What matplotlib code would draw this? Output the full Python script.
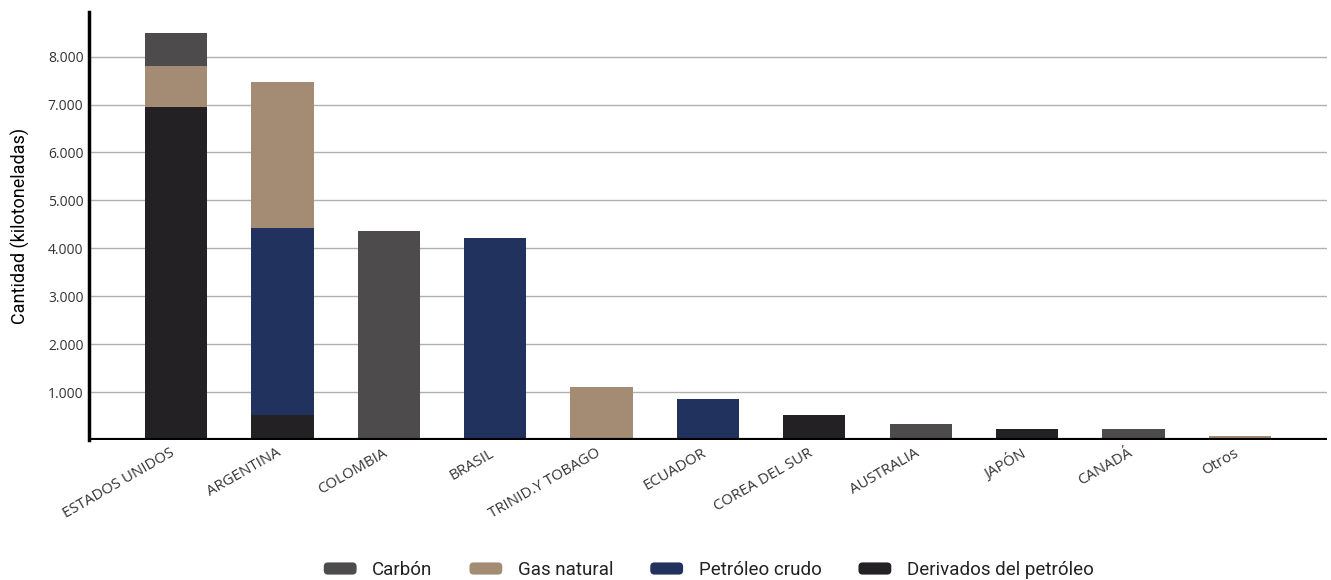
import matplotlib
matplotlib.use("Agg")
import matplotlib.pyplot as plt
import matplotlib.transforms as mtransforms
import numpy as np
from matplotlib.ticker import FuncFormatter
from matplotlib.legend_handler import HandlerPatch
from matplotlib.patches import FancyBboxPatch

# Datos (kilotoneladas)
paises = ["ESTADOS UNIDOS", "ARGENTINA", "COLOMBIA", "BRASIL", "TRINID.Y TOBAGO",
          "ECUADOR", "COREA DEL SUR", "AUSTRALIA", "JAPÓN", "CANADÁ", "Otros"]
derivados = [6950, 525, 0, 0, 0, 0, 525, 0, 225, 0, 0]
petroleo = [0, 3905, 0, 4215, 0, 860, 0, 0, 0, 0, 0]
gas = [850, 3030, 0, 0, 1110, 0, 0, 0, 0, 0, 75]
carbon = [690, 0, 4360, 0, 0, 0, 0, 335, 0, 225, 0]

series = [
    ("Derivados del petróleo", derivados, "#232124"),
    ("Petróleo crudo", petroleo, "#21325e"),
    ("Gas natural", gas, "#a48c74"),
    ("Carbón", carbon, "#4d4b4c"),
]
orden_leyenda = ["Carbón", "Gas natural", "Petróleo crudo", "Derivados del petróleo"]


class HandlerRedondeado(HandlerPatch):
    def create_artists(self, legend, orig_handle, xdescent, ydescent,
                       width, height, fontsize, trans):
        p = FancyBboxPatch((-xdescent + 1, -ydescent + 1), width - 2, height - 2,
                           boxstyle="round,pad=0,rounding_size=3",
                           facecolor=orig_handle.get_facecolor(), edgecolor="none")
        p.set_transform(trans)
        return [p]


fig = plt.figure(figsize=(13.31, 5.8), dpi=100)
ax = fig.add_axes([89 / 1331, 140 / 580, 1238 / 1331, 428 / 580])

x = np.arange(len(paises))
base = np.zeros(len(paises))
handles = {}
for nombre, valores, color in series:
    v = np.array(valores, dtype=float)
    barras = ax.bar(x, v, 0.585, bottom=base, color=color, label=nombre, zorder=2)
    handles[nombre] = barras[0]
    base += v

ax.set_xlim(-0.818, 10.82)
ax.set_ylim(0, 8930)
ax.set_yticks(range(1000, 9000, 1000))
ax.yaxis.set_major_formatter(FuncFormatter(lambda v, p: f"{int(v):,}".replace(",", ".")))
ax.grid(axis="y", color="#b0b0b0", linewidth=1, zorder=0)
ax.axhline(0, color="black", linewidth=3, zorder=3)

for s in ["top", "right", "bottom"]:
    ax.spines[s].set_visible(False)
ax.spines["left"].set_linewidth(2.5)
ax.spines["left"].set_color("black")

ax.tick_params(axis="y", length=0, pad=4, labelsize=10, labelcolor="#333333")
ax.tick_params(axis="x", length=0, pad=4)
for lab in ax.get_yticklabels():
    lab.set_family("Open Sans")

ax.set_xticks(x)
ax.set_xticklabels(paises, rotation=30, ha="right", rotation_mode="anchor",
                   fontsize=10.8, color="#333333", family="Open Sans")
# desplazar un poco las etiquetas a la izquierda
desplazamiento = mtransforms.ScaledTranslation(-6 / 100, 0, fig.dpi_scale_trans)
for lab in ax.get_xticklabels():
    lab.set_transform(lab.get_transform() + desplazamiento)

ax.set_ylabel("Cantidad (kilotoneladas)", fontsize=13, family="Roboto", color="black", labelpad=13)

fig.legend([handles[n] for n in orden_leyenda], orden_leyenda, loc="center",
           bbox_to_anchor=(708 / 1331, 10 / 580), ncol=4, frameon=False,
           prop={"family": "Roboto", "size": 13.5}, handlelength=1.9, handleheight=0.85,
           handletextpad=0.75, columnspacing=1.9,
           handler_map={matplotlib.patches.Rectangle: HandlerRedondeado()})
for t in fig.legends[0].get_texts():
    t.set_color("#222222")

plt.savefig("out.png", dpi=100)
